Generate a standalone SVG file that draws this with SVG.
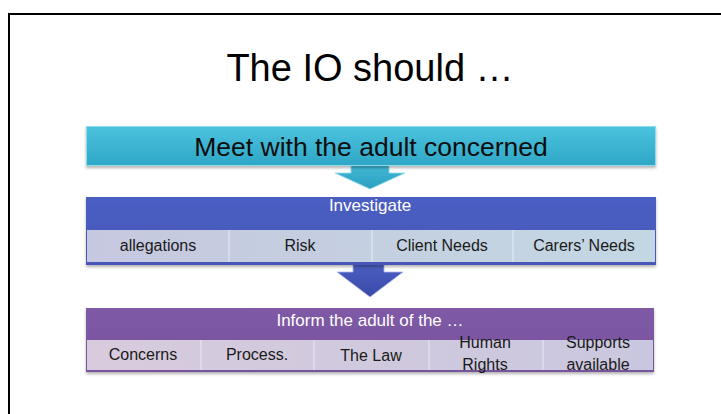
<svg xmlns="http://www.w3.org/2000/svg" width="721" height="414" viewBox="0 0 721 414">
<style>
.t{font-family:"Liberation Sans","DejaVu Sans",sans-serif;text-anchor:middle}
.cell{font-family:"Liberation Sans","DejaVu Sans",sans-serif;text-anchor:middle;font-size:16px;fill:#1a1a1a}
.hw{font-family:"Liberation Sans","DejaVu Sans",sans-serif;text-anchor:middle;font-size:17px;fill:#ffffff}
.div{stroke:#ffffff;stroke-opacity:0.6;stroke-width:1}
</style>
<defs>
<linearGradient id="gc" x1="0" y1="0" x2="0" y2="1">
<stop offset="0" stop-color="#4cc3de"/><stop offset="1" stop-color="#2ea6c6"/>
</linearGradient>
<linearGradient id="gb" x1="0" y1="0" x2="0" y2="1">
<stop offset="0" stop-color="#4b5ec3"/><stop offset="1" stop-color="#4657b8"/>
</linearGradient>
<linearGradient id="gbc" x1="0" y1="0" x2="1" y2="0">
<stop offset="0" stop-color="#c6c8df"/><stop offset="1" stop-color="#c3d7e3"/>
</linearGradient>
<linearGradient id="gp" x1="0" y1="0" x2="0" y2="1">
<stop offset="0" stop-color="#7f5aa6"/><stop offset="1" stop-color="#76539c"/>
</linearGradient>
<linearGradient id="gpc" x1="0" y1="0" x2="1" y2="0">
<stop offset="0" stop-color="#d8cbdd"/><stop offset="1" stop-color="#c9c7df"/>
</linearGradient>
<linearGradient id="ga1" x1="0" y1="0" x2="0" y2="1">
<stop offset="0" stop-color="#48bfda"/><stop offset="1" stop-color="#2a9fc0"/>
</linearGradient>
<linearGradient id="ga2" x1="0" y1="0" x2="0" y2="1">
<stop offset="0" stop-color="#4f63c6"/><stop offset="1" stop-color="#3949a8"/>
</linearGradient>
<filter id="sh" x="-5%" y="-20%" width="110%" height="150%">
<feDropShadow dx="0" dy="2" stdDeviation="1.5" flood-color="#000" flood-opacity="0.3"/>
</filter>
</defs>
<rect x="0" y="0" width="721" height="414" fill="#ffffff"/>
<path d="M9 414 V14 H721" fill="none" stroke="#000" stroke-width="2"/>
<text id="title" class="t" x="370" y="81" font-size="38" fill="#000">The IO should …</text>

<g id="connectors">
<path id="arrow1" d="M351 160 H389 V173 H405 L370 189 L335 173 H351 Z" fill="url(#ga1)" stroke="#8fdcec" stroke-width="0.8"/>
<path id="arrow2" d="M353 258 H384 V272 H403 L370 297 L337 272 H353 Z" fill="url(#ga2)" stroke="#a8b4ee" stroke-width="0.8"/>
</g>

<g id="node-meet">
<rect x="86" y="126" width="570" height="40" fill="url(#gc)" filter="url(#sh)"/>
<rect x="86.5" y="126.5" width="569" height="39" fill="none" stroke="#8fdcec" stroke-width="1"/>
<text class="t" x="371" y="156" font-size="26.5" fill="#0d0d0d">Meet with the adult concerned</text>
</g>

<g id="node-investigate">
<rect x="86" y="197" width="570" height="68" fill="url(#gb)" filter="url(#sh)"/>
<rect x="87" y="230" width="568" height="32" fill="url(#gbc)"/>
<line class="div" x1="229" y1="230" x2="229" y2="262"/>
<line class="div" x1="372" y1="230" x2="372" y2="262"/>
<line class="div" x1="513" y1="230" x2="513" y2="262"/>
<text class="hw" x="370" y="211">Investigate</text>
<text class="cell" x="158" y="251">allegations</text>
<text class="cell" x="300" y="251">Risk</text>
<text class="cell" x="442" y="251">Client Needs</text>
<text class="cell" x="584" y="251">Carers’ Needs</text>
</g>

<g id="node-inform">
<rect x="86" y="308" width="568" height="64" fill="url(#gp)" filter="url(#sh)"/>
<rect x="87" y="340" width="566" height="30" fill="url(#gpc)"/>
<line class="div" x1="201" y1="340" x2="201" y2="370"/>
<line class="div" x1="314" y1="340" x2="314" y2="370"/>
<line class="div" x1="429" y1="340" x2="429" y2="370"/>
<line class="div" x1="543" y1="340" x2="543" y2="370"/>
<text class="hw" x="370" y="326">Inform the adult of the …</text>
<text class="cell" x="143" y="360">Concerns</text>
<text class="cell" x="257" y="360">Process.</text>
<text class="cell" x="371" y="361">The Law</text>
<text class="cell" x="485" y="348">Human</text>
<text class="cell" x="485" y="370">Rights</text>
<text class="cell" x="598" y="348">Supports</text>
<text class="cell" x="598" y="370">available</text>
</g>
</svg>
